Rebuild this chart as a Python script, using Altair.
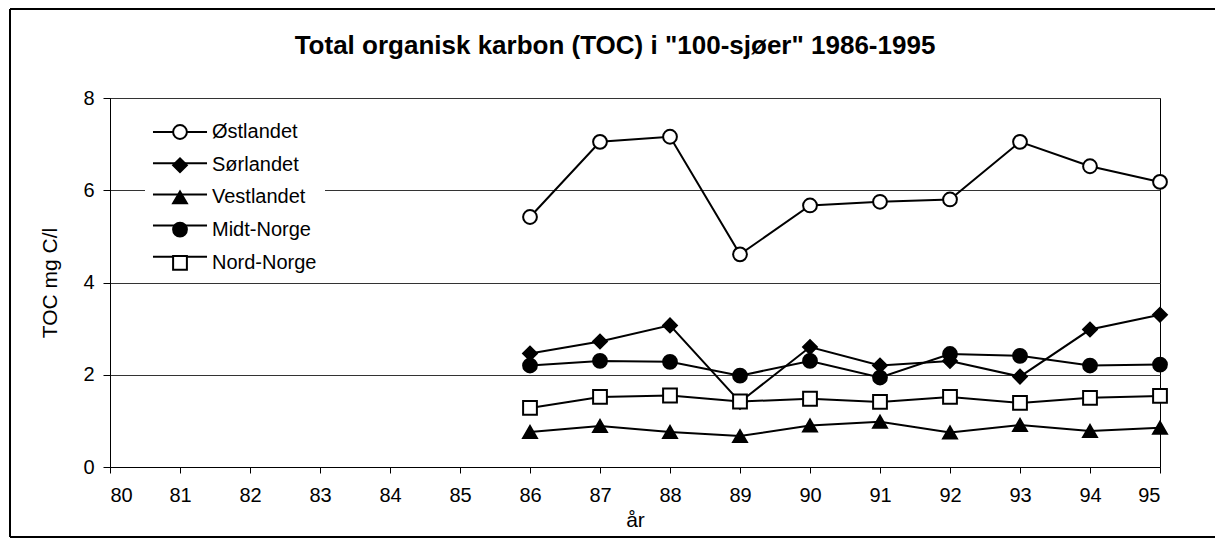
import altair as alt
import pandas as pd

# ---- data ----
years = [86, 87, 88, 89, 90, 91, 92, 93, 94, 95]
series_names = ["Østlandet", "Sørlandet", "Vestlandet", "Midt-Norge", "Nord-Norge"]
ostlandet = [5.42, 7.05, 7.16, 4.61, 5.67, 5.75, 5.80, 7.05, 6.52, 6.18]
sorlandet = [2.46, 2.72, 3.07, 1.41, 2.60, 2.20, 2.30, 1.96, 2.98, 3.30]
vestlandet = [0.76, 0.89, 0.76, 0.67, 0.90, 0.98, 0.75, 0.91, 0.78, 0.85]
midt_norge = [2.20, 2.30, 2.28, 1.98, 2.30, 1.94, 2.45, 2.41, 2.20, 2.22]
nord_norge = [1.28, 1.52, 1.55, 1.42, 1.48, 1.41, 1.52, 1.39, 1.50, 1.54]
x_ticks = list(range(80, 96))
y_ticks = [0, 2, 4, 6, 8]
shapes = ["circle", "diamond", "triangle-up", "circle", "square"]
fills = ["white", "black", "black", "black", "white"]

rows = []
for name, vals in zip(series_names, [ostlandet, sorlandet, vestlandet, midt_norge, nord_norge]):
    for yr, v in zip(years, vals):
        rows.append({"år": yr, "TOC": v, "serie": name, "linje": name})
df = pd.DataFrame(rows)

FONT = "Liberation Sans"

x_enc = alt.X(
    "år:Q",
    scale=alt.Scale(domain=[80, 95], nice=False, zero=False),
    axis=alt.Axis(values=x_ticks, format="d", title="år", grid=False,
                  tickSize=6, labelPadding=12, titlePadding=4),
)
y_enc = alt.Y(
    "TOC:Q",
    scale=alt.Scale(domain=[0, 8], nice=False),
    axis=alt.Axis(values=y_ticks, format="d", title="TOC mg C/l", grid=True,
                  tickSize=7, labelPadding=9, titlePadding=22),
)

common_legend = dict(
    title=None, orient="none", legendX=35, legendY=16, padding=8,
    symbolSize=190, symbolOffset=17, labelOffset=22, labelFontSize=20,
    labelFont=FONT, rowPadding=11.2,
)

line_legend = alt.Legend(
    fillColor="white", symbolType="M-3.92,0L3.92,0", symbolStrokeWidth=2,
    symbolFillColor="transparent", symbolStrokeColor="black", labelOpacity=0,
    **common_legend,
)
point_legend = alt.Legend(
    symbolStrokeWidth=2, symbolStrokeColor="black", labelColor="black",
    **common_legend,
)

lines = alt.Chart(df).mark_line(strokeWidth=2).encode(
    x=x_enc,
    y=y_enc,
    color=alt.Color("linje:N", scale=alt.Scale(range=["black"] * 5), legend=line_legend),
)

points = alt.Chart(df).mark_point(filled=True, size=190, strokeWidth=2, opacity=1).encode(
    x=x_enc,
    y=y_enc,
    shape=alt.Shape("serie:N", scale=alt.Scale(domain=series_names, range=shapes),
                    legend=point_legend),
    fill=alt.Fill("serie:N", scale=alt.Scale(domain=series_names, range=fills),
                  legend=point_legend),
    stroke=alt.Stroke("serie:N", scale=alt.Scale(domain=series_names, range=["black"] * 5),
                      legend=point_legend),
)

frame_data = alt.Data(values=[{"k": 1}])
frame_left = alt.Chart(frame_data).mark_rule(strokeWidth=2, color="black").encode(
    x=alt.value(-100), y=alt.value(-89), y2=alt.value(439))
frame_top = alt.Chart(frame_data).mark_rule(strokeWidth=2, color="black").encode(
    x=alt.value(-100), x2=alt.value(1105), y=alt.value(-89))
frame_bottom = alt.Chart(frame_data).mark_rule(strokeWidth=2, color="black").encode(
    x=alt.value(-100), x2=alt.value(1105), y=alt.value(439))

chart = alt.layer(lines, points, frame_left, frame_top, frame_bottom).properties(
    width=1050,
    height=369,
    padding={"left": 102, "top": 90, "right": 55, "bottom": 71},
    autosize=alt.AutoSizeParams(type="none"),
    background="white",
    title=alt.Title('Total organisk karbon (TOC) i "100-sjøer" 1986-1995',
                    fontSize=26, fontWeight="bold", font=FONT, anchor="middle",
                    offset=-51, dx=-20, color="black"),
).configure_view(
    stroke="black", strokeWidth=1
).configure_axis(
    domainColor="black", tickColor="black", labelColor="black", titleColor="black",
    labelFont=FONT, titleFont=FONT, labelFontSize=20, titleFontSize=21,
    titleFontWeight="normal", gridColor="#333333", gridWidth=1, domainWidth=1,
)

chart.save("out.html", embed_options={"renderer": "svg", "actions": False})
